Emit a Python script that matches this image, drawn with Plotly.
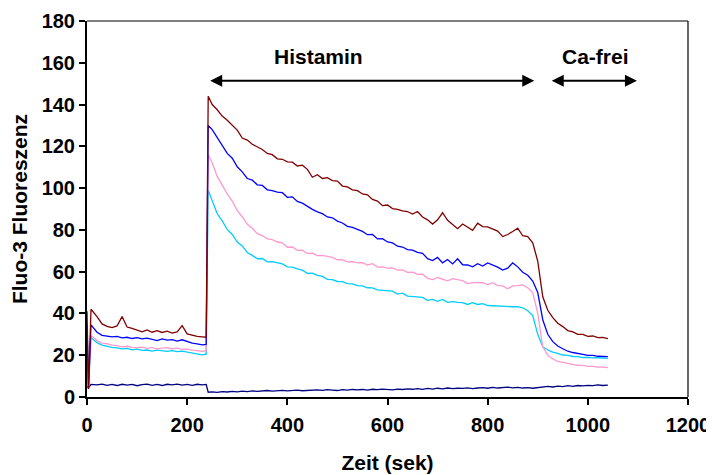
import plotly.graph_objects as go

# sample times (s)
time = [0, 3, 8] + list(range(20, 231, 10)) + [238, 242] + list(range(250, 1041, 10))

brown = [41.0, 4.0, 42.0, 38.5, 35.0, 33.8, 33.2, 34.0, 38.5, 33.5, 32.8, 32.0, 31.2, 32.1, 31.0, 31.8,
         30.9, 31.5, 30.6, 31.2, 34.2, 30.2, 29.6, 29.0, 28.8, 28.6, 144.0,
         140.0, 137.5, 134.5, 132.5, 130.0, 127.8, 124.0, 123.0, 121.0, 119.8,
         118.5, 116.6, 116.0, 114.0, 113.8, 112.6, 112.4, 110.6, 111.0, 109.0,
         105.2, 106.4, 104.6, 105.0, 103.6, 103.4, 101.0, 100.6, 99.2, 98.8,
         97.2, 96.8, 94.6, 93.8, 91.6, 91.9, 90.2, 89.8, 89.1, 88.8,
         87.6, 88.8, 86.2, 84.8, 82.8, 84.8, 88.2, 84.6, 82.4, 80.6,
         82.8, 81.2, 79.8, 83.2, 81.6, 81.4, 80.2, 79.4, 76.8, 77.8,
         79.2, 80.8, 77.2, 76.8, 73.8, 65.0, 48.0, 41.5, 38.0, 35.3,
         33.7, 31.8, 31.2, 30.0, 30.0, 29.0, 29.2, 28.4, 28.5, 27.9]

blue = [35.0, 4.0, 34.5, 31.0, 29.5, 29.2, 28.8, 29.0, 28.3, 28.6, 28.0, 28.4, 27.8, 28.2, 27.6, 27.0,
        27.8, 27.2, 27.5, 26.8, 27.4, 26.6, 25.8, 25.4, 25.0, 25.2, 130.0,
        128.0, 124.2, 120.4, 116.6, 114.3, 110.2, 107.8, 104.6, 103.8, 101.6,
        101.3, 99.2, 98.8, 98.1, 97.8, 95.6, 95.8, 93.6, 92.8, 91.2,
        89.8, 88.6, 87.8, 86.2, 85.8, 84.2, 83.3, 81.7, 81.2, 80.2,
        79.3, 77.7, 77.8, 75.7, 75.8, 74.2, 73.8, 72.2, 71.8, 70.6,
        70.3, 69.2, 68.8, 66.2, 65.3, 66.8, 64.2, 65.8, 63.7, 66.2,
        63.3, 63.2, 62.3, 63.8, 62.7, 64.2, 63.3, 62.2, 60.8, 61.7,
        64.2, 62.3, 59.7, 58.3, 55.5, 50.0, 37.0, 30.0, 26.5, 24.4,
        23.1, 21.9, 21.3, 20.7, 20.4, 19.9, 19.9, 19.5, 19.5, 19.3]

pink = [30.0, 4.0, 29.5, 27.0, 25.8, 25.5, 24.8, 24.6, 24.0, 24.3, 23.8, 23.6, 23.9, 23.3, 23.6, 23.0,
        23.4, 23.6, 23.1, 23.4, 22.8, 22.9, 22.4, 22.0, 21.8, 22.2, 116.0,
        112.0, 105.6, 101.4, 97.2, 93.8, 89.2, 86.3, 82.7, 80.8, 78.2,
        77.3, 75.7, 75.3, 74.2, 73.8, 71.7, 71.8, 70.2, 70.3, 68.7,
        68.8, 67.7, 67.8, 67.2, 66.8, 65.7, 65.8, 64.7, 64.8, 64.2,
        64.3, 63.2, 63.8, 62.2, 62.3, 61.7, 61.8, 60.7, 60.8, 59.7,
        59.8, 58.7, 58.8, 56.8, 56.2, 57.2, 56.3, 55.6, 56.7, 56.3,
        55.7, 54.3, 54.8, 54.8, 54.7, 53.8, 54.7, 53.3, 53.2, 51.8,
        53.2, 53.3, 53.7, 52.3, 50.0, 40.0, 24.0, 20.0, 18.2, 17.1,
        16.6, 15.9, 15.7, 15.1, 15.1, 14.7, 14.7, 14.3, 14.4, 14.1]

cyan = [28.0, 4.0, 28.5, 26.0, 24.8, 24.2, 23.8, 23.5, 23.0, 23.3, 22.6, 22.9, 22.3, 22.5, 22.0, 22.4,
        22.1, 21.8, 22.2, 21.7, 22.0, 21.5, 21.0, 20.6, 20.2, 20.5, 99.0,
        94.0, 87.7, 84.3, 80.2, 77.8, 74.2, 72.3, 69.2, 67.8, 66.2,
        66.3, 64.7, 64.8, 64.2, 63.7, 62.3, 62.2, 61.3, 60.7, 59.2,
        59.3, 58.2, 57.7, 56.3, 56.2, 55.3, 55.2, 54.3, 54.2, 53.3,
        53.2, 52.3, 52.2, 51.3, 51.2, 50.8, 50.7, 49.3, 49.7, 48.3,
        48.2, 47.8, 47.7, 46.3, 46.7, 45.8, 46.7, 45.3, 45.7, 45.3,
        45.2, 44.3, 45.2, 44.3, 44.7, 43.8, 43.7, 43.3, 43.2, 43.3,
        43.2, 43.3, 42.7, 41.3, 39.0, 30.0, 24.0, 22.5, 21.5, 20.9,
        20.1, 19.9, 19.4, 19.3, 18.9, 19.0, 18.7, 18.8, 18.5, 18.5]

navy = [5.0, 4.5, 6.0, 5.8, 6.2, 5.6, 6.0, 5.5, 6.1, 5.7, 6.0, 5.4, 5.9, 6.2, 5.6, 6.0,
        5.5, 6.1, 5.8, 6.2, 5.7, 6.0, 5.6, 6.1, 5.8, 6.0, 2.3,
        2.5, 2.2, 2.6, 2.4, 2.7, 2.5, 2.8, 2.6, 2.9, 2.7,
        2.9, 3.1, 2.8, 3.0, 3.2, 2.9, 3.1, 3.3, 3.0, 3.2,
        3.1, 3.4, 3.2, 3.5, 3.3, 3.1, 3.5, 3.3, 3.6, 3.4,
        3.6, 3.3, 3.7, 3.5, 3.8, 3.6, 3.4, 3.8, 3.6, 3.9,
        3.7, 4.0, 3.7, 4.1, 3.8, 4.2, 3.9, 4.3, 4.0, 4.2,
        4.1, 4.4, 4.0, 4.3, 4.5, 4.2, 4.6, 4.3, 4.4, 4.7,
        4.4, 4.6, 4.3, 4.5, 4.2, 4.6, 4.9, 5.1, 4.8, 5.2,
        5.0, 5.4, 5.1, 5.5, 5.3, 5.6, 5.4, 5.8, 5.5, 5.7]

series = [
    ("Zelle 5", navy, "#000080"),
    ("Zelle 4", cyan, "#00CCFF"),
    ("Zelle 3", pink, "#FF99CC"),
    ("Zelle 2", blue, "#0000FF"),
    ("Zelle 1", brown, "#800000"),
]

FONT = "Liberation Sans, Arial, sans-serif"

fig = go.Figure()
for name, vals, col in series:
    fig.add_trace(go.Scatter(x=time, y=vals, mode="lines", name=name,
                             line=dict(color=col, width=1.3)))

axis_common = dict(showline=True, linecolor="black", linewidth=2, ticks="outside",
                   ticklen=6, tickwidth=1.5, tickcolor="black", showgrid=False,
                   zeroline=False, automargin=False,
                   tickfont=dict(family=FONT, size=20, color="black", weight="bold"))

# the page adds an 8 px body margin, so the figure is 8 px smaller than the window
fig.update_layout(
    width=706, height=467,
    margin=dict(l=79, r=26, t=13, b=78),
    plot_bgcolor="white", paper_bgcolor="white",
    showlegend=False,
    xaxis=dict(range=[0, 1200], dtick=200, tick0=0, ticklabelstandoff=3,
               title=dict(text="Zeit (sek)", standoff=20,
                          font=dict(family=FONT, size=21, color="black", weight="bold")),
               **axis_common),
    yaxis=dict(range=[0, 180], dtick=20, tick0=0,
               title=dict(text="Fluo-3 Fluoreszenz", standoff=10,
                          font=dict(family=FONT, size=21, color="black", weight="bold")),
               **axis_common),
)

# thin frame on top and right
fig.add_shape(type="line", xref="paper", yref="paper", x0=0, x1=1, y0=1, y1=1,
              line=dict(color="black", width=1.2))
fig.add_shape(type="line", xref="paper", yref="paper", x0=1, x1=1, y0=0, y1=1,
              line=dict(color="black", width=1.2))

# phase labels and arrows
fig.add_annotation(x=462, y=163, xref="x", yref="y", text="Histamin", showarrow=False,
                   font=dict(family=FONT, size=21, color="black", weight="bold"))
fig.add_annotation(x=1015, y=163, xref="x", yref="y", text="Ca-frei", showarrow=False,
                   font=dict(family=FONT, size=21, color="black", weight="bold"))
fig.add_annotation(x=893, y=151.4, ax=243, ay=151.4, xref="x", yref="y", axref="x", ayref="y",
                   text="", showarrow=True, arrowhead=2, startarrowhead=2, arrowside="end+start",
                   arrowsize=1.2, startarrowsize=1.2, arrowwidth=2, arrowcolor="black",
                   standoff=0, startstandoff=0)
fig.add_annotation(x=1098, y=151.4, ax=925, ay=151.4, xref="x", yref="y", axref="x", ayref="y",
                   text="", showarrow=True, arrowhead=2, startarrowhead=2, arrowside="end+start",
                   arrowsize=1.2, startarrowsize=1.2, arrowwidth=2, arrowcolor="black",
                   standoff=0, startstandoff=0)

fig.write_html("out.html")
